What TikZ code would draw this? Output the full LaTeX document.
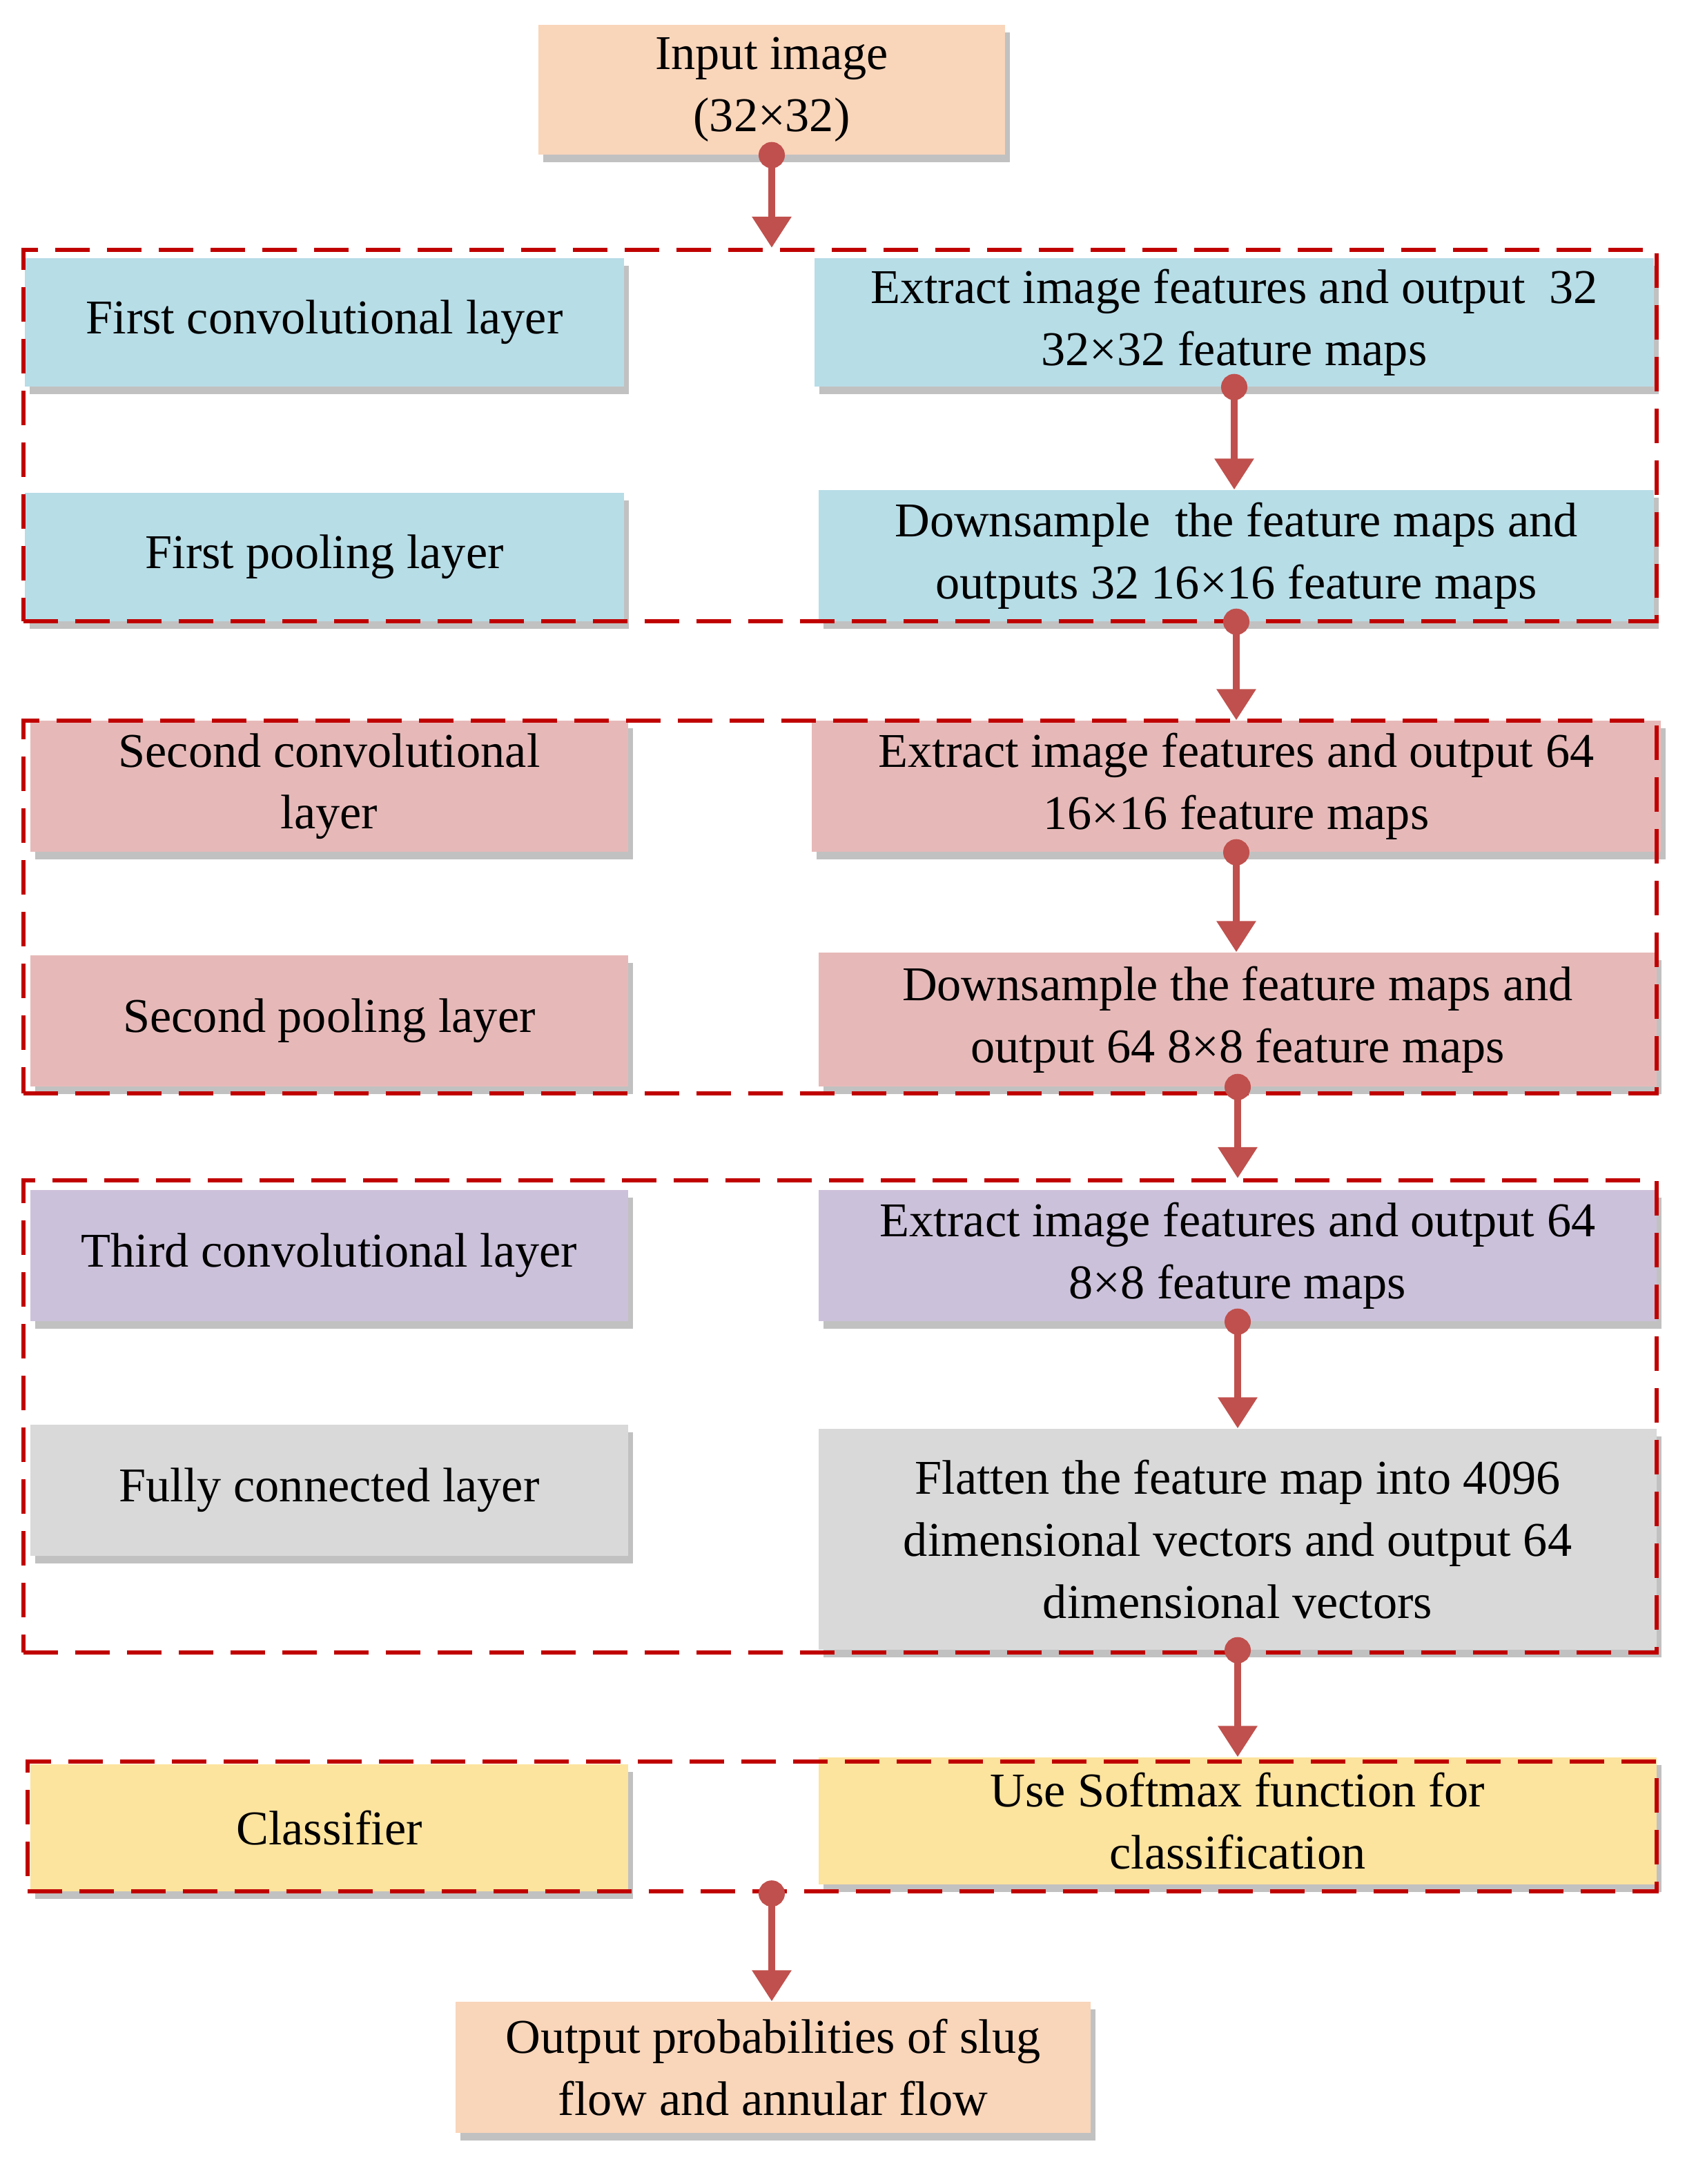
\documentclass[tikz,border=0pt]{standalone}
\usepackage{fontspec}
\setmainfont{Liberation Serif}
\usetikzlibrary{arrows.meta,shadows}
\definecolor{peach}{HTML}{F9D5BA}
\definecolor{cblue}{HTML}{B7DDE7}
\definecolor{cpink}{HTML}{E6B9B8}
\definecolor{clav}{HTML}{CCC1DA}
\definecolor{cgray}{HTML}{D9D9D9}
\definecolor{cyel}{HTML}{FCE39E}
\definecolor{dred}{HTML}{C00000}
\definecolor{ared}{HTML}{C0504D}
\tikzset{
  box/.style={draw=none, align=center, inner sep=0pt, font=\fontsize{20}{25.5}\selectfont,
    drop shadow={shadow xshift=2pt, shadow yshift=-3pt, fill=gray!70, opacity=0.7}},
  grp/.style={draw=dred, line width=1.8pt, dash pattern=on 0.5cm off 0.25cm, inner sep=0pt},
  arr/.style={draw=ared, line width=2.8pt, {Circle[length=0.38cm]}-{Triangle[length=0.45cm,width=0.55cm]}, shorten <=-0.19cm}
}
\newcommand{\bx}[7]{\node[box, fill=#6, minimum width={(#4-#2)*0.02cm}, minimum height={(#5-#3)*0.02cm}] (#1) at ({(#2+#4)/2},{(#3+#5)/2}) {#7};}
\newcommand{\gp}[5]{\node[grp, minimum width={(#4-#2)*0.02cm}, minimum height={(#5-#3)*0.02cm}] (#1) at ({(#2+#4)/2},{(#3+#5)/2}) {};}
\begin{document}
\begin{tikzpicture}[x=0.02cm,y=-0.02cm]
\useasboundingbox (0,0) rectangle (1228.5,1582);
\bx{in}{390}{18}{728}{112}{peach}{Input image\\(32×32)}
\bx{c1}{18}{187}{452}{280}{cblue}{First convolutional layer}
\bx{e1}{590}{187}{1198}{280}{cblue}{Extract image features and output \ 32\\32×32 feature maps}
\bx{p1}{18}{357}{452}{450}{cblue}{First pooling layer}
\bx{d1}{593}{355}{1198}{450}{cblue}{Downsample \ the feature maps and\\outputs 32 16×16 feature maps}
\bx{c2}{22}{522}{455}{617}{cpink}{Second convolutional\\layer}
\bx{e2}{588}{522}{1203}{617}{cpink}{Extract image features and output 64\\16×16 feature maps}
\bx{p2}{22}{692}{455}{787}{cpink}{Second pooling layer}
\bx{d2}{593}{690}{1200}{787}{cpink}{Downsample the feature maps and\\output 64 8×8 feature maps}
\bx{c3}{22}{862}{455}{957}{clav}{Third convolutional layer}
\bx{e3}{593}{862}{1200}{957}{clav}{Extract image features and output 64\\8×8 feature maps}
\bx{fc}{22}{1032}{455}{1127}{cgray}{Fully connected layer}
\bx{fl}{593}{1035}{1200}{1195}{cgray}{Flatten the feature map into 4096\\dimensional vectors and output 64\\dimensional vectors}
\bx{cl}{22}{1278}{455}{1370}{cyel}{Classifier}
\bx{sm}{593}{1273}{1200}{1365}{cyel}{Use Softmax function for\\classification}
\bx{out}{330}{1450}{790}{1545}{peach}{Output probabilities of slug\\flow and annular flow}
\gp{g1}{17}{181}{1200}{450}
\gp{g2}{17}{522}{1200}{792}
\gp{g3}{17}{855}{1200}{1197}
\gp{g4}{20}{1276}{1200}{1370}
\draw[arr] (in.south) -- (in.south |- g1.north);
\draw[arr] (e1.south) -- (e1.south |- d1.north);
\draw[arr] (d1.south) -- (d1.south |- e2.north);
\draw[arr] (e2.south) -- (e2.south |- d2.north);
\draw[arr] (d2.south) -- (d2.south |- g3.north);
\draw[arr] (e3.south) -- (e3.south |- fl.north);
\draw[arr] (fl.south) -- (fl.south |- sm.north);
\draw[arr] (in.south |- g4.south) -- (out.north -| in.south);
\end{tikzpicture}
\end{document}
